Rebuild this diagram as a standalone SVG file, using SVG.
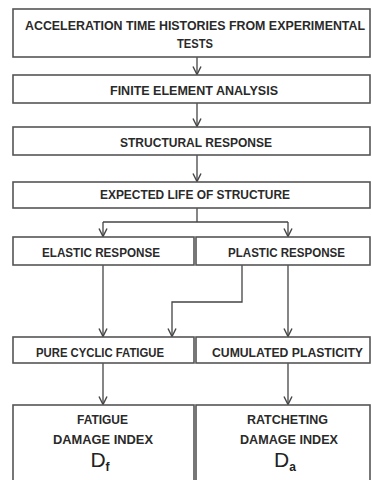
<svg xmlns="http://www.w3.org/2000/svg" width="372" height="480" viewBox="0 0 372 480">
<defs>
<style>
.box{fill:#fff;stroke:#555;stroke-width:1.6}
.t{font-family:"Liberation Sans",Arial,sans-serif;font-weight:bold;font-size:13px;fill:#2a2a2a;text-anchor:middle}
.d{font-family:"Liberation Sans",Arial,sans-serif;font-size:21px;fill:#222;text-anchor:middle}
.c{fill:none;stroke:#444;stroke-width:1.3}
</style>
<marker id="ah" viewBox="0 0 10 10" refX="9" refY="5" markerWidth="10" markerHeight="10" markerUnits="userSpaceOnUse" orient="auto">
<path d="M1,1 L9,5 L1,9" fill="none" stroke="#444" stroke-width="1.4"/>
</marker>
</defs>
<rect width="372" height="480" fill="#fff"/>
<g id="connectors">
<line class="c" x1="197" y1="57" x2="197" y2="74.5" marker-end="url(#ah)"/>
<line class="c" x1="197" y1="103" x2="197" y2="126.5" marker-end="url(#ah)"/>
<line class="c" x1="197" y1="155" x2="197" y2="181.5" marker-end="url(#ah)"/>
<polyline class="c" points="197,208 197,222"/>
<polyline class="c" points="103,222 288,222"/>
<line class="c" x1="103" y1="222" x2="103" y2="236.5" marker-end="url(#ah)"/>
<line class="c" x1="288" y1="222" x2="288" y2="236.5" marker-end="url(#ah)"/>
<line class="c" x1="103" y1="265" x2="103" y2="336.5" marker-end="url(#ah)"/>
<polyline class="c" points="242,265 242,302 172,302 172,336.5" marker-end="url(#ah)"/>
<line class="c" x1="288" y1="265" x2="288" y2="336.5" marker-end="url(#ah)"/>
<line class="c" x1="103" y1="363" x2="103" y2="404.5" marker-end="url(#ah)"/>
<line class="c" x1="288" y1="363" x2="288" y2="404.5" marker-end="url(#ah)"/>
</g>
<g id="n1"><rect class="box" x="13" y="9" width="357" height="48"/>
<text class="t" x="195" y="29.5" font-size="12" textLength="340" lengthAdjust="spacingAndGlyphs" style="font-size:12px">ACCELERATION TIME HISTORIES FROM EXPERIMENTAL</text>
<text class="t" x="195" y="48" textLength="36" lengthAdjust="spacingAndGlyphs">TESTS</text></g>
<g id="n2"><rect class="box" x="13" y="75" width="357" height="28"/>
<text class="t" x="194" y="95" textLength="168" lengthAdjust="spacingAndGlyphs">FINITE ELEMENT ANALYSIS</text></g>
<g id="n3"><rect class="box" x="13" y="127" width="357" height="28"/>
<text class="t" x="196" y="146.5" textLength="152" lengthAdjust="spacingAndGlyphs">STRUCTURAL RESPONSE</text></g>
<g id="n4"><rect class="box" x="13" y="182" width="357" height="26"/>
<text class="t" x="195" y="198.5" textLength="190" lengthAdjust="spacingAndGlyphs">EXPECTED LIFE OF STRUCTURE</text></g>
<g id="n5"><rect class="box" x="13" y="237" width="181" height="28"/>
<text class="t" x="101" y="256.5" textLength="118" lengthAdjust="spacingAndGlyphs">ELASTIC RESPONSE</text></g>
<g id="n6"><rect class="box" x="196" y="237" width="174" height="28"/>
<text class="t" x="286.5" y="256.5" textLength="117" lengthAdjust="spacingAndGlyphs">PLASTIC RESPONSE</text></g>
<g id="n7"><rect class="box" x="13" y="337" width="181" height="26"/>
<text class="t" x="100" y="356.5" textLength="128" lengthAdjust="spacingAndGlyphs">PURE CYCLIC FATIGUE</text></g>
<g id="n8"><rect class="box" x="196" y="337" width="174" height="26"/>
<text class="t" x="287.5" y="356.5" textLength="151" lengthAdjust="spacingAndGlyphs">CUMULATED PLASTICITY</text></g>
<g id="n9"><rect class="box" x="13" y="405" width="181" height="80"/>
<text class="t" x="102.5" y="423.5" textLength="51" lengthAdjust="spacingAndGlyphs">FATIGUE</text>
<text class="t" x="103" y="443.5" textLength="100" lengthAdjust="spacingAndGlyphs">DAMAGE INDEX</text>
<text class="d" x="100" y="467">D<tspan font-size="12" font-weight="bold" dy="4">f</tspan></text></g>
<g id="n10"><rect class="box" x="196" y="405" width="174" height="80"/>
<text class="t" x="287.5" y="423.5" textLength="81" lengthAdjust="spacingAndGlyphs">RATCHETING</text>
<text class="t" x="289" y="443.5" textLength="98" lengthAdjust="spacingAndGlyphs">DAMAGE INDEX</text>
<text class="d" x="285" y="467">D<tspan font-size="12" font-weight="bold" dy="4">a</tspan></text></g>
</svg>
